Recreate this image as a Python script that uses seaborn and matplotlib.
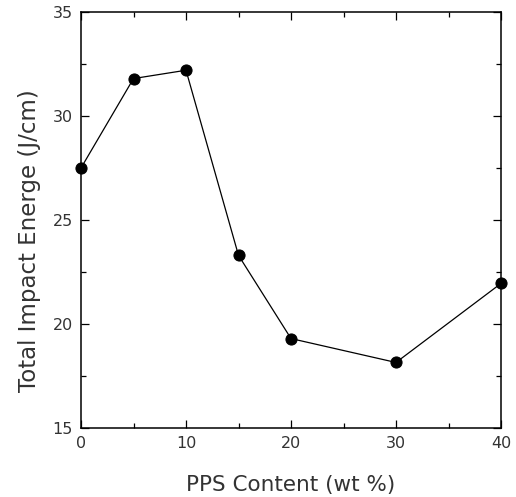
import matplotlib
matplotlib.use("Agg")
import matplotlib.pyplot as plt
import seaborn as sns
import pandas as pd
from matplotlib.ticker import MultipleLocator

pps_content = [0, 5, 10, 15, 20, 30, 40]
impact_energy = [27.5, 31.8, 32.2, 23.3, 19.3, 18.15, 21.95]
x_ticks = [0, 10, 20, 30, 40]
y_ticks = [15, 20, 25, 30, 35]

sns.set_theme(style="ticks")
plt.rcParams['font.family'] = ['DejaVu Sans']

df = pd.DataFrame({"x": pps_content, "y": impact_energy})

fig = plt.figure(figsize=(5.16, 4.97), dpi=100)
ax = fig.add_axes([81/516, 1 - 428/497, (501-81)/516, (428-12)/497])

sns.lineplot(data=df, x="x", y="y", ax=ax, color="black", linewidth=0.9,
             marker="o", markersize=8, markeredgecolor="black",
             markerfacecolor="black", clip_on=False, zorder=5)

ax.set_xlim(0, 40)
ax.set_ylim(15, 35)
ax.set_xticks(x_ticks)
ax.set_yticks(y_ticks)
ax.xaxis.set_minor_locator(MultipleLocator(5))
ax.yaxis.set_minor_locator(MultipleLocator(2.5))
ax.tick_params(which="both", direction="in", top=True, right=True,
               labelsize=11.5, color="black", labelcolor="#333333")
ax.tick_params(which="major", length=6, width=0.9, pad=6)
ax.tick_params(which="minor", length=3.5, width=0.9)
for s in ax.spines.values():
    s.set_linewidth(1.1)
    s.set_color("black")

ax.set_xlabel("PPS Content (wt %)", fontsize=15.5, labelpad=17, color="#333333")
ax.set_ylabel("Total Impact Energe (J/cm)", fontsize=16.5, color="#333333")
ax.yaxis.set_label_coords(-0.095, 0.45)

fig.savefig("out.png", dpi=100)
